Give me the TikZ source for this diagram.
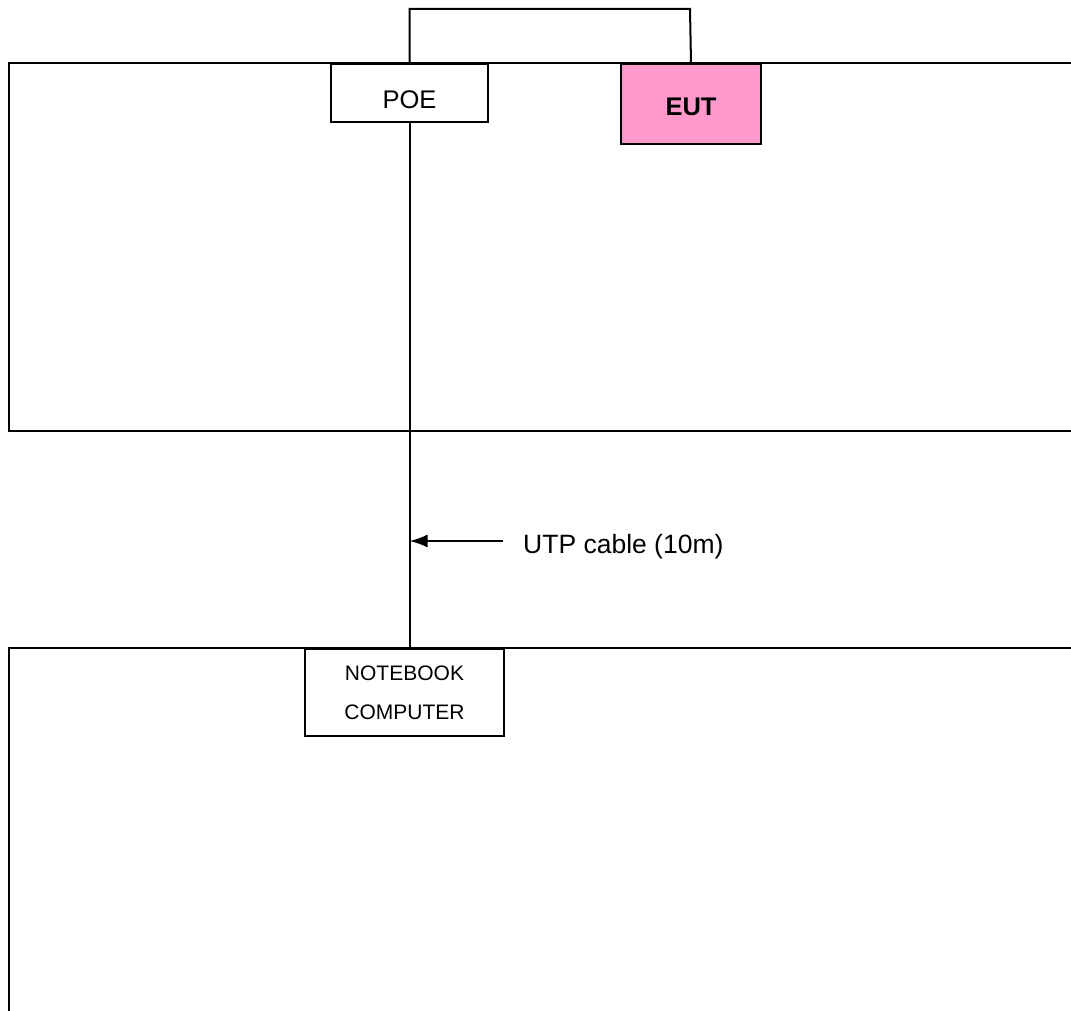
\documentclass[tikz,border=0pt]{standalone}
\usepackage{fontspec}
\setmainfont{Liberation Sans}
\usetikzlibrary{arrows.meta}
\definecolor{eutpink}{HTML}{FF99CC}
\tikzset{
  room/.style={draw=black, line width=2.4pt},
  box/.style={draw=black, line width=2pt, fill=white, inner sep=0pt},
  wire/.style={draw=black, line width=2pt},
}
\begin{document}
\begin{tikzpicture}[x=1pt,y=-1pt]
\useasboundingbox (0,0) rectangle (1071,1011);
\fill[white] (0,0) rectangle (1071,1011);
\begin{scope}
\clip (0,0) rectangle (1071,1011);
\draw[room] (9,63) rectangle (1090,431);
\draw[room] (9,648) rectangle (1090,1030);
\end{scope}
\node[box, anchor=north west, minimum width=157pt, minimum height=58pt,
      font=\fontsize{25.5}{30}\selectfont, text height=31pt, text depth=0pt] (poe) at (330,63) {POE};
\node[box, fill=eutpink, anchor=north west, minimum width=140pt, minimum height=80pt,
      font=\bfseries\fontsize{25.5}{30}\selectfont, text height=24pt, text depth=0pt] (eut) at (620,63) {EUT};
\node[box, anchor=north west, minimum width=199pt, minimum height=87pt,
      font=\fontsize{21}{39}\selectfont, align=center] (nb) at (304,648) {NOTEBOOK\\COMPUTER};
\coordinate (topl) at (690,9);
\draw[wire] (poe.north) |- (topl) -- (eut.north);
\draw[wire] (poe.south) -- (poe.south |- nb.north);
\coordinate (arrs) at (503,541);
\draw[wire, -{Latex[length=18pt,width=13pt]}] (arrs) -- (arrs -| poe.south);
\node[anchor=west, font=\fontsize{26.5}{30}\selectfont, inner sep=0pt] (utp) at (523,547) {UTP cable (10m)};
\end{tikzpicture}
\end{document}
